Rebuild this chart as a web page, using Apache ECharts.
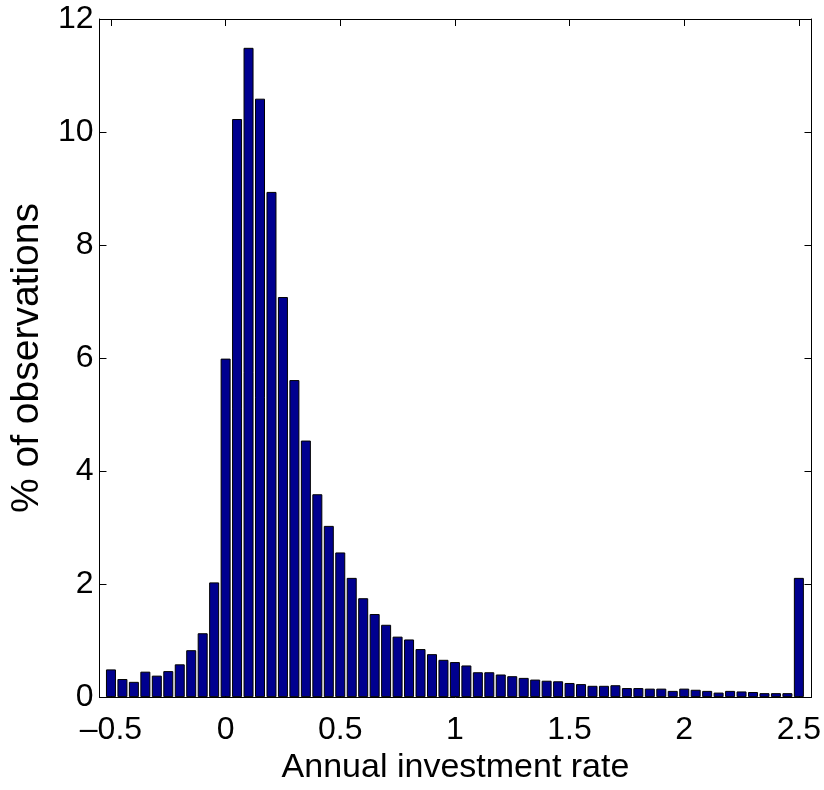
<!DOCTYPE html>
<html>
<head>
<meta charset="utf-8">
<style>
    html, body { margin: 0; padding: 0; background: #fff; }
    #hist_echart { width: 824px; height: 790px; }
</style>
<script src="https://cdn.jsdelivr.net/npm/echarts@6/dist/echarts.min.js"></script>
</head>
<body>
<div id="hist_echart"></div>
<script>
    // bin centres (annual investment rate), step 0.05
    let binCenters = [
        -0.5, -0.45, -0.4, -0.35, -0.3, -0.25, -0.2, -0.15, -0.1, -0.05,
        0, 0.05, 0.1, 0.15, 0.2, 0.25, 0.3, 0.35, 0.4, 0.45,
        0.5, 0.55, 0.6, 0.65, 0.7, 0.75, 0.8, 0.85, 0.9, 0.95,
        1, 1.05, 1.1, 1.15, 1.2, 1.25, 1.3, 1.35, 1.4, 1.45,
        1.5, 1.55, 1.6, 1.65, 1.7, 1.75, 1.8, 1.85, 1.9, 1.95,
        2, 2.05, 2.1, 2.15, 2.2, 2.25, 2.3, 2.35, 2.4, 2.45, 2.5
    ]
    // % of observations in each bin
    let pctObs = [
        0.49, 0.32, 0.27, 0.45, 0.38, 0.46, 0.58, 0.83, 1.13, 2.03,
        5.99, 10.23, 11.49, 10.59, 8.94, 7.08, 5.61, 4.54, 3.59, 3.03,
        2.56, 2.11, 1.75, 1.47, 1.28, 1.07, 1.02, 0.85, 0.76, 0.66,
        0.62, 0.56, 0.44, 0.44, 0.40, 0.37, 0.34, 0.31, 0.29, 0.28,
        0.25, 0.23, 0.20, 0.20, 0.21, 0.16, 0.16, 0.15, 0.15, 0.11,
        0.15, 0.13, 0.11, 0.08, 0.11, 0.10, 0.09, 0.07, 0.07, 0.07, 2.11
    ]
    // tick labels
    let xTicks = [-0.5, 0, 0.5, 1, 1.5, 2, 2.5]
    let yTicks = [0, 2, 4, 6, 8, 10, 12]

    let tickFont = '"Liberation Sans Narrow", "Liberation Sans", Arial, sans-serif'
    // box axes, not crossing at zero
    let axisLine = { show: true, onZero: false, lineStyle: { color: '#000', width: 1 } }
    let xTick = { show: true, inside: true, length: 7, customValues: xTicks, lineStyle: { color: '#000' } }
    let yTick = { show: true, inside: true, length: 7, lineStyle: { color: '#000' } }

    let hist_echart = echarts.init(document.getElementById('hist_echart'));
    hist_echart.setOption({
        animation: false,
        grid: {
            left: 93,
            top: 19,
            width: 720,
            height: 686
        },
        xAxis: [{
                type: 'value',
                position: 'bottom',
                min: -0.55,
                max: 2.555,
                name: 'Annual investment rate',
                nameLocation: 'middle',
                nameGap: 40,
                nameTextStyle: { color: '#000', fontSize: 34, fontFamily: tickFont },
                axisLine: axisLine,
                axisTick: xTick,
                axisLabel: {
                    customValues: xTicks,
                    margin: 17,
                    color: '#000',
                    fontSize: 32,
                    fontFamily: tickFont,
                    formatter: function (v) { return v < 0 ? '\u2013' + (-v) : String(v) }
                },
                splitLine: { show: false }
            },
            {
                type: 'value',
                position: 'top',
                min: -0.55,
                max: 2.555,
                axisLine: axisLine,
                axisTick: xTick,
                axisLabel: { show: false },
                splitLine: { show: false }
            }
        ],
        yAxis: [{
                type: 'value',
                position: 'left',
                min: 0,
                max: 12,
                interval: 2,
                name: '% of observations',
                nameLocation: 'middle',
                nameGap: 50,
                nameTextStyle: { color: '#000', fontSize: 39, fontFamily: '"Liberation Sans", Arial, sans-serif' },
                axisLine: axisLine,
                axisTick: yTick,
                axisLabel: {
                    margin: 6,
                    color: '#000',
                    fontSize: 32,
                    fontFamily: tickFont,
                    formatter: function (v) { return yTicks.indexOf(v) >= 0 ? String(v) : '' }
                },
                splitLine: { show: false }
            },
            {
                type: 'value',
                position: 'right',
                min: 0,
                max: 12,
                interval: 2,
                axisLine: axisLine,
                axisTick: yTick,
                axisLabel: { show: false },
                splitLine: { show: false }
            }
        ],
        series: [{
            type: 'bar',
            barWidth: 10,
            itemStyle: {
                color: '#00008f',
                borderColor: '#000',
                borderWidth: 1
            },
            data: binCenters.map(function (x, i) { return [x, pctObs[i]] })
        }]
    })
</script>
</body>
</html>
